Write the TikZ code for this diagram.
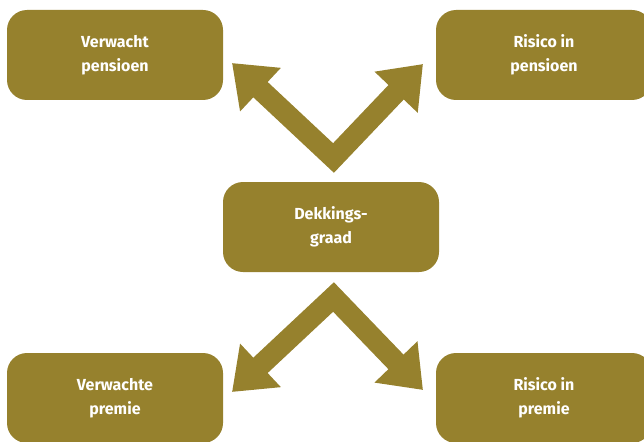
\documentclass[tikz,border=0pt]{standalone}
\usepackage{fontspec}
\setsansfont{Fira Sans}
\usetikzlibrary{arrows.meta}
\definecolor{olijf}{RGB}{150,129,45}
\tikzset{
  blok/.style={fill=olijf, draw=none, rounded corners=20pt, minimum width=216pt, minimum height=90pt,
    text=white, align=center, font=\sffamily\bfseries\fontsize{16}{23.5}\selectfont},
  pijl/.style={draw=olijf, line width=21pt, line join=miter,
    {Triangle[length=39pt,width=57pt]}-{Triangle[length=39pt,width=57pt]}}
}
\begin{document}
\begin{tikzpicture}[x=1pt,y=-1pt]
  \useasboundingbox (0,0) rectangle (644,441);
  \clip (0,0) rectangle (644,441);
  % boxes
  \node[blok] (vpens) at (115,55) {Verwacht\\pensioen};
  \node[blok] (rpens) at (544,55) {Risico in\\pensioen};
  \node[blok] (dgraad) at (331,227) {Dekkings-\\graad};
  \node[blok] (vprem) at (115,398) {Verwachte\\premie};
  \node[blok] (rprem) at (544,398) {Risico in\\premie};
  % arrow ends
  \coordinate (boven) at (333.5,158);
  \coordinate (bovenL) at (232,63);
  \coordinate (bovenR) at (423,64);
  \coordinate (onder) at (333.5,297);
  \coordinate (onderL) at (232,392);
  \coordinate (onderR) at (423,390);
  % V arrows
  \draw[pijl] (bovenL) -- (boven) -- (bovenR);
  \draw[pijl] (onderL) -- (onder) -- (onderR);
\end{tikzpicture}
\end{document}
